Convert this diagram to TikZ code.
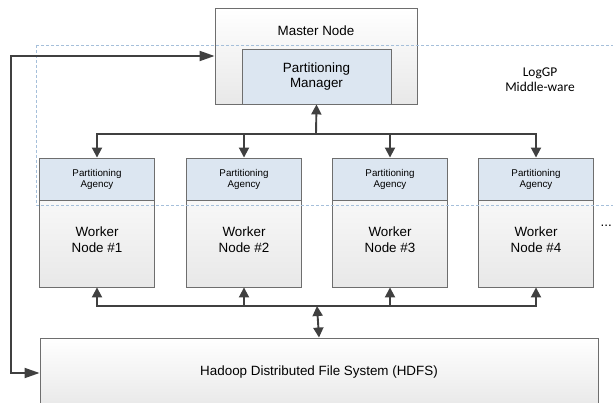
\documentclass[tikz,border=0pt]{standalone}
\usepackage{fontspec}
\setmainfont{Liberation Sans}
\newfontfamily\calibri{Carlito}
\usetikzlibrary{arrows.meta,positioning}
\definecolor{boxline}{HTML}{6E6E6E}
\definecolor{agency}{HTML}{DCE6F1}
\definecolor{arrowgray}{HTML}{404040}
\definecolor{mwline}{HTML}{A5BFDA}

\begin{document}
\begin{tikzpicture}[x=1pt,y=-1pt,
  box/.style={draw=boxline,line width=0.9pt,top color=white,bottom color=black!9,inner sep=0pt},
  agencybox/.style={draw=boxline,line width=0.9pt,fill=agency,inner sep=0pt,align=center},
  txt/.style={align=center,inner sep=0pt,font=\fontsize{13.4}{16}\selectfont},
  conn/.style={draw=arrowgray,line width=1.9pt,-{Triangle[length=10pt,width=10pt]}},
  conn2/.style={conn,{Triangle[length=10pt,width=10pt]}-{Triangle[length=10pt,width=10pt]}},
  loopconn/.style={conn,{Triangle[length=15pt,width=10pt]}-{Triangle[length=15pt,width=10pt]}}]
  \useasboundingbox (0,0) rectangle (613,403);
  \clip (0,0) rectangle (613,403);

  % Master node with the partitioning manager
  \node[box,minimum width=202pt,minimum height=96pt] (master) at (316,56) {};
  \node[txt] (mastertxt) at (316,31) {Master Node};
  \node[agencybox,minimum width=149pt,minimum height=55pt,font=\fontsize{13.4}{15}\selectfont] (manager) at (316.5,76.5) {Partitioning\\Manager};

  % Worker nodes
  \foreach \i/\x in {1/97,2/244,3/390,4/536}{
    \node[box,minimum width=115pt,minimum height=129pt] (w\i) at (\x,222.5) {};
    \node[agencybox,minimum width=115pt,minimum height=42pt,font=\fontsize{9.8}{11}\selectfont] (pa\i) at (\x,179) {Partitioning\\Agency};
    \node[txt] (wt\i) at (\x,240) {Worker\\Node \#\i};
  }

  % HDFS
  \node[box,minimum width=558pt,minimum height=70pt] (hdfs) at (319,373) {};
  \node[txt] (hdfstxt) at (319,372) {Hadoop Distributed File System (HDFS)};

  % Middle-ware region
  \draw[mwline,line width=0.7pt,dash pattern=on 3pt off 2pt] (36,45) rectangle (660,205);
  \node[align=center,inner sep=0pt,font=\calibri\fontsize{13.4}{15}\selectfont] (mw) at (540,80) {LogGP\\Middle-ware};
  \node[anchor=east,inner sep=0pt,font=\fontsize{13.4}{16}\selectfont] (more) at (612,226) {...};

  % Connectors
  \coordinate (bustop) at (316,134);
  \coordinate (busbot) at (317,306);
  \draw[conn] (bustop) -- (manager.south);
  \foreach \i in {1,...,4}{
    \draw[conn] (bustop) -| (pa\i.north);
    \draw[conn] (busbot) -| (w\i.south);
  }
  \draw[conn2] (busbot) -- (hdfs.north);
  \draw[loopconn] (master.west) -- ++(-204,0) |- (hdfs.west);
\end{tikzpicture}
\end{document}
